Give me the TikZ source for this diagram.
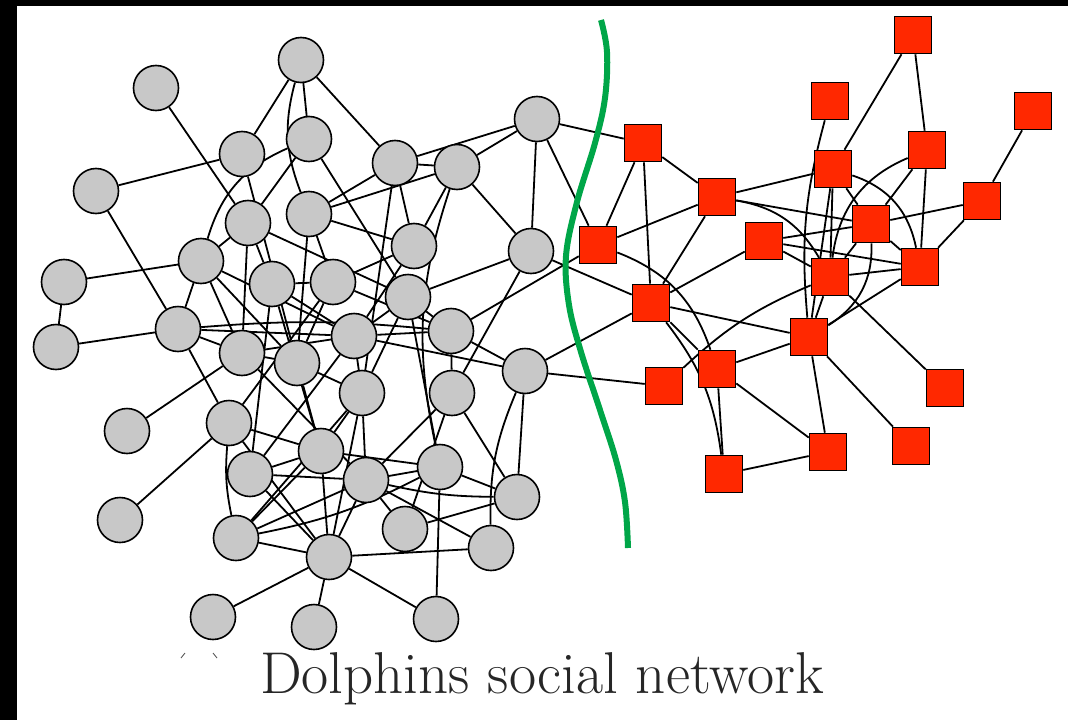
\documentclass[tikz,border=0pt]{standalone}
\usepackage{tikz}
\usetikzlibrary{positioning}
\pgfdeclarelayer{back}
\pgfsetlayers{back,main}
\definecolor{dgray}{RGB}{200,200,200}
\definecolor{rred}{RGB}{255,40,0}
\definecolor{cutgreen}{RGB}{0,166,72}

\begin{document}
\begin{tikzpicture}[x=1pt,y=-1pt,
	dolph/.style={circle,draw=black,line width=1.6pt,fill=dgray,minimum size=45pt,inner sep=0pt},
	grp/.style={rectangle,draw=black,line width=1.6pt,fill=rred,minimum size=37pt,inner sep=0pt},
	tie/.style={line width=1.8pt}]
	\useasboundingbox (0,0) rectangle (1068,720);
	\fill[black] (0,0) rectangle (1068,6);
	\fill[black] (0,0) rectangle (17,720);
	
	% left community
	\foreach \n/\x/\y in {d1/301/60,d2/156/88,d3/309/139,d4/242/154,d5/96/191,d6/248/223,d7/309/214,
		d8/395/163,d9/457/167,d10/537/119,d11/201/261,d12/64/282,d13/272/284,d14/333/282,
		d15/414/246,d16/531/251,d17/408/297,d18/178/329,d19/56/347,d20/242/353,d21/297/363,
		d22/354/336,d23/451/331,d24/525/371,d25/362/393,d26/452/393,d27/229/423,d28/127/431,
		d29/321/451,d30/250/474,d31/366/480,d32/440/467,d33/517/497,d34/120/520,d35/236/538,
		d36/405/529,d37/491/548,d38/329/557,d39/213/617,d40/314/627,d41/436/619}{%
		\node[dolph] (\n) at (\x,\y) {};
	}
	% right community
	\foreach \n/\x/\y in {r1/643/143,r2/598/245,r3/717/197,r4/764/241,r5/651/303,r6/913/35,
		r7/830/101,r8/1033/111,r9/833/169,r10/927/150,r11/982/201,r12/871/224,r13/920/267,
		r14/830/277,r15/809/337,r16/717/369,r17/664/386,r18/945/388,r19/828/452,r20/911/446,
		r21/724/474}{%
		\node[grp] (\n) at (\x,\y) {};
	}
	
	\begin{pgfonlayer}{back}
		\foreach \a/\b in {d1/d4,d1/d3,d1/d8,d2/d6,d5/d4,d5/d18,d3/d6,d3/d17,d4/d21,d6/d13,
			d6/d17,d6/d20,d7/d8,d7/d9,d7/d15,d7/d14,d7/d21,d8/d9,d8/d10,d9/d10,d10/d16,d9/d16,
			d8/d15,d9/d15,d8/d25,d11/d12,d12/d19,d19/d18,d18/d11,d11/d6,d11/d20,d11/d21,d11/d22,
			d18/d22,d18/d27,d18/d20,d28/d20,d34/d27,d20/d21,d13/d14,d13/d22,d14/d23,d14/d15,
			d14/d27,d14/d21,d15/d22,d16/d17,d16/d26,d17/d23,d17/d22,d17/d25,d17/d32,d22/d23,
			d22/d24,d23/d24,d23/d26,d22/d25,d21/d25,d21/d29,d13/d29,d20/d22,d27/d29,d27/d38,
			d29/d30,d29/d38,d29/d25,d29/d32,d30/d31,d30/d38,d35/d31,d35/d38,d35/d29,d35/d25,
			d38/d37,d38/d39,d38/d40,d38/d41,d38/d31,d38/d25,d31/d25,d31/d26,d31/d32,d31/d36,
			d31/d37,d26/d36,d26/d33,d24/d33,d32/d33,d36/d33,d32/d41,d20/d31,d13/d30,d22/d30}{%
			\draw[tie] (\a)--(\b);
		}
		\draw[tie] (d1) to[bend right=18] (d7);
		\draw[tie] (d3) to[bend right=25] (d11);
		\draw[tie] (d9) to[bend right=15] (d32);
		\draw[tie] (d18) to[bend left=5] (d23);
		\draw[tie] (d24) to[bend right=12] (d37);
		\draw[tie] (d35) to[bend right=8] (d32);
		\draw[tie] (d31) to[bend right=6] (d33);
		\draw[tie] (d27) to[bend right=8] (d35);
		
		% across the cut
		\foreach \a/\b in {d10/r1,d10/r2,d23/r2,d16/r5,d24/r5,d24/r17}{%
			\draw[tie] (\a)--(\b);
		}
		
		\foreach \a/\b in {r1/r2,r1/r5,r1/r3,r2/r3,r3/r5,r3/r9,r3/r12,r4/r5,r4/r12,r4/r13,
			r4/r14,r5/r16,r5/r15,r6/r9,r6/r10,r8/r11,r9/r14,r9/r15,r9/r12,r10/r12,r10/r13,
			r11/r12,r11/r13,r12/r13,r12/r14,r13/r14,r13/r15,r14/r15,r14/r18,r15/r16,r15/r19,
			r15/r20,r16/r21,r16/r19,r19/r21}{%
			\draw[tie] (\a)--(\b);
		}
		\draw[tie] (r2) to[bend left=25] (r16);
		\draw[tie] (r3) to[bend left=25] (r14);
		\draw[tie] (r5) to[bend left=15] (r21);
		\draw[tie] (r7) to[bend right=10] (r15);
		\draw[tie] (r9) to[bend left=30] (r13);
		\draw[tie] (r10) to[bend right=30] (r14);
		\draw[tie] (r12) to[bend left=30] (r15);
		\draw[tie] (r14) to[bend right=10] (r17);
	\end{pgfonlayer}
	
	% the cut
	\draw[cutgreen,line width=6pt] plot[smooth,tension=0.6] coordinates {(601,20) (607,52) (605,98)
		(595,143) (577,202) (566,256) (569,305) (581,352) (600,410) (616,460) (625,502) (628,548)};
	
	\draw[black!70,line width=0.8pt] (181,658)--(185,653);
	\draw[black!70,line width=0.8pt] (213,653)--(217,658);
	\node[text=black!85,font=\fontsize{59}{66}\selectfont,anchor=base] (title) at (542,693) {Dolphins social network};
\end{tikzpicture}
\end{document}
